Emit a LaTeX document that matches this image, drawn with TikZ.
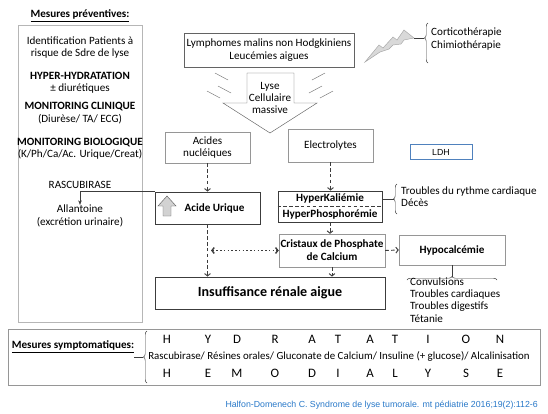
\documentclass[tikz,border=0pt]{standalone}
\usepackage{fontspec}
\setmainfont{Carlito}
\newfontfamily\arialfont{Liberation Sans}
\usetikzlibrary{arrows.meta,positioning,decorations.pathreplacing}
\definecolor{BoxGray}{RGB}{150,150,150}
\definecolor{DarkLine}{RGB}{60,60,60}
\definecolor{LdhBlue}{RGB}{79,129,189}
\definecolor{CiteBlue}{RGB}{40,120,200}
\tikzset{
  box/.style={draw=BoxGray,fill=white,align=center,inner sep=1pt,
    font=\fontsize{9.5}{11}\selectfont},
  strongbox/.style={draw=DarkLine,thick,fill=white,align=center,inner sep=1pt,
    font=\fontsize{9.5}{11}\selectfont\bfseries},
  txt/.style={align=center,inner sep=0pt,font=\fontsize{9.5}{10.5}\selectfont},
  letter/.style={inner sep=0pt,font=\fontsize{11}{12}\selectfont},
  dasharrow/.style={densely dashed,DarkLine,thick,-{Straight Barb[length=2pt,width=5pt]}},
  dotarrow/.style={dotted,DarkLine,very thick,
    {Straight Barb[length=2pt,width=5pt]}-{Straight Barb[length=2pt,width=5pt]}},
  curly/.style={decorate,decoration={brace,amplitude=3pt},DarkLine}
}

\begin{document}
\begin{tikzpicture}[x=0.03cm,y=-0.03cm]
  \useasboundingbox (0,0) rectangle (548,414);
  % preventive measures
  \node[txt,font=\fontsize{9.5}{11}\selectfont\bfseries] (prevtitle) at (80,16) {\underline{Mesures préventives:}};
  \draw[BoxGray!70] (18,25) rectangle (142,322);
  \node[txt] (ident) at (80,47.5) {Identification Patients à\\risque de Sdre de lyse};
  \node[txt] (hydra) at (80,83) {\textbf{HYPER-HYDRATATION}\\± diurétiques};
  \node[txt] (clin) at (80,113) {\textbf{MONITORING CLINIQUE}\\(Diurèse/ TA/ ECG)};
  \node[txt] (bio) at (80,149) {\textbf{MONITORING BIOLOGIQUE}\\(K/Ph/Ca/Ac. Urique/Creat)};
  \node[txt] (rascu) at (80,185) {RASCUBIRASE};
  \node[txt] (allant) at (80,216) {Allantoine\\(excrétion urinaire)};

  % cause and lysis
  \node[box,draw=DarkLine!80,minimum width=5.1cm,minimum height=1.02cm] (lympho) at (269,50)
    {Lymphomes malins non Hodgkiniens\\Leucémies aigues};
  \draw[DarkLine!80,fill=white] (247,73) -- (294,73) -- (294,103) -- (317,103) -- (270,133)
    -- (223,103) -- (247,103) -- cycle;
  \node[txt] (lyse) at (270,98) {Lyse\\Cellulaire\\massive};
  \foreach \ya/\xa in {73/215,86/218,91/207} {
    \draw[DarkLine!70] (\xa,\ya) -- ++(13,7);
    \draw[DarkLine!70] (540-\xa,\ya) -- ++(-13,7);
  }

  % treatments
  \draw[gray!70,fill=gray!30] (365,62) -- (379,45) -- (383,48) -- (393,37) -- (397,40) -- (404,30)
    -- (414,38) -- (404,40) -- (401,44) -- (393,45) -- (389,49) -- (380,52) -- cycle;
  \coordinate (bolt) at (414,38);
  \coordinate (corttip) at (424,38);
  \draw[DarkLine] (bolt) -- (corttip);
  \draw[curly,decoration={brace,amplitude=3pt,aspect=0.625}] (428,63) -- (428,23);
  \node[txt,align=left,anchor=west] (cortico) at (431,39) {Corticothérapie\\Chimiothérapie};

  % cell content
  \node[box,minimum width=2.55cm,minimum height=0.93cm] (acides) at (207.5,147.5) {Acides\\nucléiques};
  \node[box,minimum width=2.55cm,minimum height=0.99cm] (electro) at (330.5,145.5) {Electrolytes};
  \node[box,draw=LdhBlue,minimum width=1.86cm,minimum height=0.45cm,
    font=\fontsize{7.5}{9}\arialfont] (ldh) at (441,152) {LDH};

  \node[strongbox,minimum width=3.15cm,minimum height=0.96cm] (urique) at (207.5,208) {\hspace*{12pt}Acide Urique};
  \draw[DarkLine!80,fill=gray!35] (167,196) -- (176,206) -- (171,206) -- (171,216) -- (163,216)
    -- (163,206) -- (158,206) -- cycle;
  \node[strongbox,minimum width=3.12cm,minimum height=0.93cm] (hyper) at (330,206.5)
    {HyperKaliémie\\[2pt]HyperPhosphorémie};
  \draw[densely dashed,DarkLine] (hyper.west) -- (hyper.east);
  \node[box,font=\fontsize{9.5}{11}\selectfont\bfseries,minimum width=3.18cm,minimum height=0.99cm]
    (cristaux) at (332,250.5) {Cristaux de Phosphate\\de Calcium};
  \node[box,font=\fontsize{9.5}{11}\selectfont\bfseries,minimum width=3.18cm,minimum height=0.9cm]
    (hypoca) at (452,250) {Hypocalcémie};
  \node[strongbox,font=\fontsize{12}{14}\selectfont\bfseries,minimum width=6.9cm,minimum height=0.96cm]
    (irenal) at (270,293) {Insuffisance rénale aigue};

  % connectors
  \draw[DarkLine,-{Stealth[length=4pt]}] (urique.north west) -| (allant.north);
  \draw[dasharrow] (acides.south) -- (acides.south |- urique.north);
  \draw[dasharrow] (electro.south) -- (electro.south |- hyper.north);
  \draw[dasharrow] (hyper.south) -- (hyper.south |- cristaux.north);
  \draw[dasharrow] (urique.south) -- (urique.south |- irenal.north);
  \draw[dasharrow] (cristaux.south) -- (cristaux.south |- irenal.north);
  \draw[dasharrow] (cristaux.east) -- (hypoca.west);
  \coordinate (dotleft) at (urique.south |- cristaux.west);
  \draw[dotarrow] ([xshift=3pt]dotleft) -- (cristaux.west);

  % clinical signs
  \coordinate (hyptip) at (394,199);
  \draw[DarkLine] (hyper.east |- hyptip) -- (hyptip);
  \draw[curly] (397,214) -- (397,184);
  \node[txt,align=left,anchor=west] (rythme) at (401,197) {Troubles du rythme cardiaque\\Décès};
  \coordinate (hypotip) at (452,276.5);
  \draw[DarkLine] (hypoca.south) -- (hypotip);
  \draw[curly] (407,280) -- (497,280);
  \node[txt,align=left,anchor=west] (signes) at (410,300)
    {Convulsions\\Troubles cardiaques\\Troubles digestifs\\Tétanie};

  % symptomatic measures
  \draw[BoxGray] (8,329) rectangle (540,385);
  \node[txt,font=\fontsize{9.5}{11}\selectfont\bfseries] (symp) at (73,347) {\underline{Mesures symptomatiques:}};
  \coordinate (symtip) at (143,357);
  \draw[DarkLine] (symp.east |- symtip) -- (symtip);
  \draw[curly] (147,383) -- (147,331);
  \foreach \x/\a/\b in {167/H/H,208/Y/E,237/D/M,275/R/O,312/A/D,338/T/I,370/A/A,395/T/L,428/I/Y,466/O/S,500/N/E} {
    \node[letter] (top\x) at (\x,339) {\a};
    \node[letter] (bot\x) at (\x,373) {\b};
  }
  \node[txt,font=\fontsize{9.3}{11}\selectfont] (traite) at (339,356)
    {Rascubirase/ Résines orales/ Gluconate de Calcium/ Insuline (+ glucose)/ Alcalinisation};
  \node[anchor=east,inner sep=0pt,text=CiteBlue,font=\fontsize{7.5}{9}\arialfont] (cite) at (538,405)
    {Halfon-Domenech C. Syndrome de lyse tumorale. mt pédiatrie 2016;19(2):112-6};
\end{tikzpicture}
\end{document}
